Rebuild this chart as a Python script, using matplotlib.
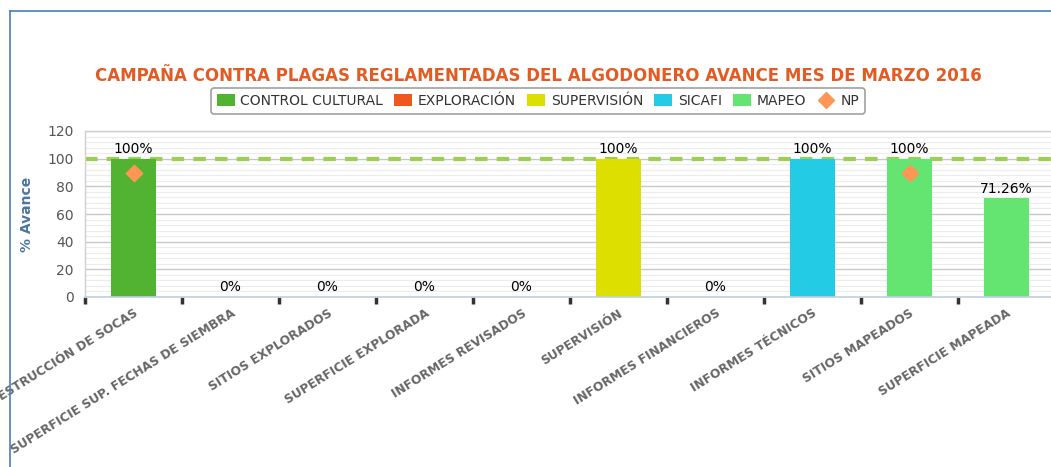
import matplotlib.pyplot as plt
from matplotlib.lines import Line2D
from matplotlib.patches import Patch
from matplotlib.ticker import MultipleLocator

# categories and values
categories = ['DESTRUCCIÓN DE SOCAS', 'SUPERFICIE SUP. FECHAS DE SIEMBRA',
              'SITIOS EXPLORADOS', 'SUPERFICIE EXPLORADA', 'INFORMES REVISADOS',
              'SUPERVISIÓN', 'INFORMES FINANCIEROS', 'INFORMES TÉCNICOS',
              'SITIOS MAPEADOS', 'SUPERFICIE MAPEADA']
avance = [100, 0, 0, 0, 0, 100, 0, 100, 100, 71.26]
labels = ['100%', '0%', '0%', '0%', '0%', '100%', '0%', '100%', '100%', '71.26%']
series = ['CONTROL CULTURAL', 'EXPLORACIÓN', 'EXPLORACIÓN', 'EXPLORACIÓN',
          'EXPLORACIÓN', 'SUPERVISIÓN', 'SICAFI', 'SICAFI', 'MAPEO', 'MAPEO']
np_idx = [0, 8]
np_vals = [90, 90]
meta = 100

colors = {'CONTROL CULTURAL': '#52b232', 'EXPLORACIÓN': '#f0561d',
          'SUPERVISIÓN': '#dddf00', 'SICAFI': '#24cbe5', 'MAPEO': '#64e572'}

fig = plt.figure(figsize=(10.51, 4.67), dpi=100)
ax = fig.add_axes([85 / 1051, 1 - 297 / 467, 970 / 1051, 166 / 467])

x = list(range(len(categories)))
ax.axhline(meta, color='#9bd04e', lw=3, ls=(0, (3, 2.2)), zorder=1)
ax.bar(x, avance, width=0.47, color=[colors[s] for s in series], zorder=2)
ax.scatter(np_idx, np_vals, marker='D', s=70, color='#ff9655', zorder=3)

for xi, v, lab in zip(x, avance, labels):
    ax.text(xi, v + 2, lab, ha='center', va='bottom', fontsize=10, color='black')

ax.set_xlim(-0.5, len(categories) - 0.5)
ax.set_ylim(0, 120)
ax.yaxis.set_major_locator(MultipleLocator(20))
ax.yaxis.set_minor_locator(MultipleLocator(4))
ax.grid(axis='y', which='major', color='#c8c8c8', lw=1, zorder=0)
ax.grid(axis='y', which='minor', color='#ececec', lw=0.8, zorder=0)
ax.set_axisbelow(True)

ax.set_xticks([i - 0.5 for i in x])
ax.set_xticklabels([])
ax.set_xticks(x, minor=True)
ax.set_xticklabels(categories, minor=True, rotation=32, ha='right',
                   rotation_mode='anchor', fontsize=8.8, fontweight='bold',
                   color='#666666')
ax.tick_params(axis='x', which='major', length=5, width=2.5, color='#333333',
               direction='out')
ax.tick_params(axis='x', which='minor', length=0, pad=7)
ax.tick_params(axis='y', which='both', length=0, labelsize=10,
               labelcolor='#555555', pad=8)

for side in ['top', 'left', 'right']:
    ax.spines[side].set_color('#d0d0d0')
    ax.spines[side].set_linewidth(1)
ax.spines['bottom'].set_color('#c0d0e0')
ax.spines['bottom'].set_linewidth(1.2)

ax.set_ylabel('% Avance', fontsize=10, fontweight='bold', color='#4d759e',
              labelpad=10)

fig.text(538 / 1051, 1 - 76 / 467, 'CAMPAÑA CONTRA PLAGAS REGLAMENTADAS DEL ALGODONERO AVANCE MES DE MARZO 2016',
         ha='center', va='center', fontsize=12, fontweight='bold', color='#e35b22')

handles = [Patch(facecolor=colors[s], label=s) for s in
           ['CONTROL CULTURAL', 'EXPLORACIÓN', 'SUPERVISIÓN', 'SICAFI', 'MAPEO']]
handles.append(Line2D([], [], marker='D', ls='none', color='#ff9655',
                      markersize=8, label='NP'))
leg = fig.legend(handles=handles, loc='center', bbox_to_anchor=(538 / 1051, 1 - 101 / 467),
                 ncol=6, fontsize=10, frameon=True, handlelength=1.3,
                 handleheight=1.0, handletextpad=0.4, columnspacing=0.8,
                 borderpad=0.4, fancybox=True, labelcolor='#333333')
leg.get_frame().set_edgecolor('#888888')
leg.get_frame().set_linewidth(1.2)

# outer blue border (top and left)
fig.add_artist(Line2D([10 / 1051, 10 / 1051], [0, 1 - 11 / 467], color='#4a7ebb', lw=1.2))
fig.add_artist(Line2D([10 / 1051, 1], [1 - 11 / 467, 1 - 11 / 467], color='#4a7ebb', lw=1.2))

fig.savefig('out.png', dpi=100)
